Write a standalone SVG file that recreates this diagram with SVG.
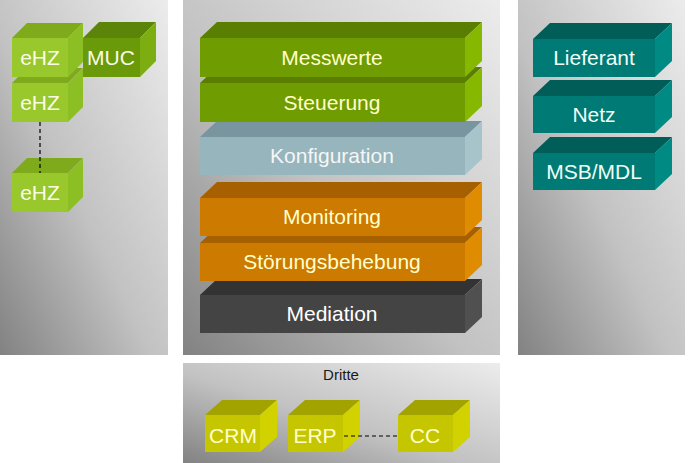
<svg xmlns="http://www.w3.org/2000/svg" width="694" height="463" viewBox="0 0 694 463">
<defs>
<linearGradient id="pg" x1="1" y1="0" x2="0" y2="1">
<stop offset="0" stop-color="#ececec"/>
<stop offset="0.55" stop-color="#c2c2c2"/>
<stop offset="1" stop-color="#828282"/>
</linearGradient>
<style>
text{font-family:"Liberation Sans",Arial,sans-serif;font-size:21px;text-anchor:middle}
.lg .f{fill:#98c82c}.lg .t{fill:#7faa1c}.lg .s{fill:#8cbf24}.lg text{fill:#fbfbe6}
.dg .f{fill:#6a9a0a}.dg .t{fill:#5a8508}.dg .s{fill:#7cae12}.dg text{fill:#fbfbe6}
.gr .f{fill:#6f9c00}.gr .t{fill:#5a7f00}.gr .s{fill:#86b800}.gr text{fill:#ffffcc}
.bl .f{fill:#96b5bc}.bl .t{fill:#7895a0}.bl .s{fill:#a6c4ca}.bl text{fill:#f6f6f6}
.or .f{fill:#cc7a00}.or .t{fill:#a66000}.or .s{fill:#e08c00}.or text{fill:#ffffcc}
.gy .f{fill:#444444}.gy .t{fill:#333333}.gy .s{fill:#505050}.gy text{fill:#ffffff}
.te .f{fill:#007a74}.te .t{fill:#005d58}.te .s{fill:#008a84}.te text{fill:#f0fff8}
.ye .f{fill:#c6c600}.ye .t{fill:#a3a300}.ye .s{fill:#d2d200}.ye text{fill:#ffffcc}
.panel{fill:url(#pg)}
.dash{stroke:#000;stroke-width:1.2;stroke-dasharray:4,3;fill:none}
</style>
</defs>
<g id="panels">
<rect class="panel" x="0" y="0" width="168" height="355"/>
<rect class="panel" x="183" y="0" width="317" height="355"/>
<rect class="panel" x="518" y="0" width="167" height="355"/>
<rect class="panel" x="183" y="363" width="317" height="100"/>
<text x="341" y="380" style="font-size:15px;fill:#1a1a1a">Dritte</text>
</g>
<g id="left">
<g id="ehz2" class="lg">
<polygon class="t" points="12,83 27,68 83,68 68,83"/>
<polygon class="s" points="68,83 83,68 83,107 68,122"/>
<rect class="f" x="12" y="83" width="56" height="39"/>
<text x="40" y="110">eHZ</text>
</g>
<g id="ehz1" class="lg">
<polygon class="t" points="12,38 27,23 83,23 68,38"/>
<polygon class="s" points="68,38 83,23 83,62 68,77"/>
<rect class="f" x="12" y="38" width="56" height="39"/>
<text x="40" y="65">eHZ</text>
</g>
<g id="muc" class="dg">
<polygon class="t" points="83,38 99,22 156,22 140,38"/>
<polygon class="s" points="140,38 156,22 156,61 140,77"/>
<rect class="f" x="83" y="38" width="57" height="39"/>
<text x="111" y="65">MUC</text>
</g>
<g id="ehz3" class="lg">
<polygon class="t" points="12,173 27,158 83,158 68,173"/>
<polygon class="s" points="68,173 83,158 83,197 68,212"/>
<rect class="f" x="12" y="173" width="56" height="39"/>
<text x="40" y="200">eHZ</text>
</g>
</g>
<g id="center">
<g id="mediation" class="gy">
<polygon class="t" points="200,295 217,279 482,279 465,295"/>
<polygon class="s" points="465,295 482,279 482,317 465,333"/>
<rect class="f" x="200" y="295" width="265" height="38"/>
<text x="332" y="321">Mediation</text>
</g>
<g id="stoerung" class="or">
<polygon class="t" points="200,243 217,227 482,227 465,243"/>
<polygon class="s" points="465,243 482,227 482,265 465,281"/>
<rect class="f" x="200" y="243" width="265" height="38"/>
<text x="332" y="269">Störungsbehebung</text>
</g>
<g id="monitoring" class="or">
<polygon class="t" points="200,198 217,182 482,182 465,198"/>
<polygon class="s" points="465,198 482,182 482,220 465,236"/>
<rect class="f" x="200" y="198" width="265" height="38"/>
<text x="332" y="224">Monitoring</text>
</g>
<g id="konfiguration" class="bl">
<polygon class="t" points="200,137 217,121 482,121 465,137"/>
<polygon class="s" points="465,137 482,121 482,159 465,175"/>
<rect class="f" x="200" y="137" width="265" height="38"/>
<text x="332" y="163">Konfiguration</text>
</g>
<g id="steuerung" class="gr">
<polygon class="t" points="200,83 217,67 482,67 465,83"/>
<polygon class="s" points="465,83 482,67 482,106 465,122"/>
<rect class="f" x="200" y="83" width="265" height="39"/>
<text x="332" y="110">Steuerung</text>
</g>
<g id="messwerte" class="gr">
<polygon class="t" points="200,38 217,22 482,22 465,38"/>
<polygon class="s" points="465,38 482,22 482,61 465,77"/>
<rect class="f" x="200" y="38" width="265" height="39"/>
<text x="332" y="65">Messwerte</text>
</g>
</g>
<g id="right">
<g id="msb" class="te">
<polygon class="t" points="533,153 550,137 672,137 655,153"/>
<polygon class="s" points="655,153 672,137 672,174 655,190"/>
<rect class="f" x="533" y="153" width="122" height="37"/>
<text x="594" y="179">MSB/MDL</text>
</g>
<g id="netz" class="te">
<polygon class="t" points="533,96 550,80 672,80 655,96"/>
<polygon class="s" points="655,96 672,80 672,117 655,133"/>
<rect class="f" x="533" y="96" width="122" height="37"/>
<text x="594" y="122">Netz</text>
</g>
<g id="lieferant" class="te">
<polygon class="t" points="533,39 550,23 672,23 655,39"/>
<polygon class="s" points="655,39 672,23 672,61 655,77"/>
<rect class="f" x="533" y="39" width="122" height="38"/>
<text x="594" y="65">Lieferant</text>
</g>
</g>
<g id="dritte">
<g id="crm" class="ye">
<polygon class="t" points="205,415 222,400 277,400 260,415"/>
<polygon class="s" points="260,415 277,400 277,437 260,452"/>
<rect class="f" x="205" y="415" width="55" height="37"/>
<text x="233" y="443">CRM</text>
</g>
<g id="erp" class="ye">
<polygon class="t" points="288,415 305,400 360,400 343,415"/>
<polygon class="s" points="343,415 360,400 360,437 343,452"/>
<rect class="f" x="288" y="415" width="55" height="37"/>
<text x="315" y="443">ERP</text>
</g>
<g id="cc" class="ye">
<polygon class="t" points="398,415 415,400 470,400 453,415"/>
<polygon class="s" points="453,415 470,400 470,437 453,452"/>
<rect class="f" x="398" y="415" width="55" height="37"/>
<text x="425" y="443">CC</text>
</g>
</g>
<g id="connectors">
<line class="dash" x1="40" y1="122" x2="40" y2="173"/>
<line class="dash" x1="344" y1="436" x2="398" y2="436"/>
</g>
</svg>
